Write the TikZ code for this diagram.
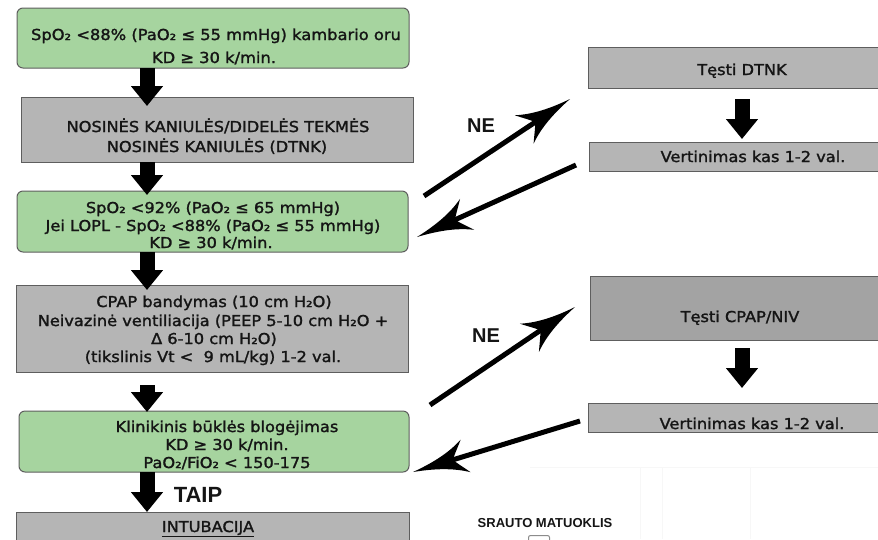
\documentclass[tikz,border=0pt]{standalone}
\usepackage{fontspec}
\usetikzlibrary{arrows.meta}
\newfontfamily\mf{DejaVu Sans}[FakeStretch=1.08,FakeBold=1.6]
\newfontfamily\lsans{Liberation Sans}
\definecolor{gfill}{HTML}{A6D49F}
\definecolor{bfill}{HTML}{B5B5B5}
\definecolor{dfill}{HTML}{A3A3A3}
\definecolor{edge}{HTML}{5E5E5E}
\definecolor{ink}{HTML}{151515}
\pgfdeclarearrow{
  name=Barb,
  setup code={
    \pgfarrowssettipend{0pt}
    \pgfarrowssetlineend{-38pt}
    \pgfarrowssetvisualbackend{-55pt}
    \pgfarrowssetbackend{-55pt}
    \pgfarrowshullpoint{0pt}{0pt}
    \pgfarrowsupperhullpoint{-55pt}{16pt}
  },
  drawing code={
    \pgfpathmoveto{\pgfqpoint{0pt}{0pt}}
    \pgfpathcurveto{\pgfqpoint{-22pt}{3pt}}{\pgfqpoint{-40pt}{8pt}}{\pgfqpoint{-55pt}{17pt}}
    \pgfpathcurveto{\pgfqpoint{-48pt}{8pt}}{\pgfqpoint{-44pt}{4pt}}{\pgfqpoint{-42pt}{0pt}}
    \pgfpathcurveto{\pgfqpoint{-44pt}{-4pt}}{\pgfqpoint{-48pt}{-8pt}}{\pgfqpoint{-55pt}{-17pt}}
    \pgfpathcurveto{\pgfqpoint{-40pt}{-8pt}}{\pgfqpoint{-22pt}{-3pt}}{\pgfqpoint{0pt}{0pt}}
    \pgfpathclose
    \pgfusepathqfill
  }
}
\begin{document}
\begin{tikzpicture}[x=1pt,y=-1pt,
  box/.style={draw=edge,line width=1pt,inner sep=0pt,outer sep=0pt,anchor=north west},
  gbox/.style={box,fill=gfill,rounded corners=6pt},
  ybox/.style={box,fill=bfill},
  dbox/.style={box,fill=dfill},
  tx/.style={font=\mf\fontsize{15}{18}\selectfont,text=ink,anchor=base,inner sep=0pt},
  lbl/.style={font=\lsans\bfseries\fontsize{20}{24}\selectfont,text=ink,anchor=base,inner sep=0pt},
  blk/.style={line width=15pt,-{Triangle[length=20pt,width=31pt]}},
  bar/.style={line width=5pt,-{Barb}},
  faint/.style={draw=black!3,line width=1pt}
]
\clip (0,0) rectangle (878,539);
\fill[white] (0,0) rectangle (878,539);
\coordinate (ax) at (147,0);
\coordinate (rx) at (742,0);
% faint background lines
\draw[faint] (530,467) -- (878,467);
\draw[faint] (640,467) -- (640,539);
\draw[faint] (662,467) -- (662,539);
\draw[faint] (750,467) -- (750,539);
% left column boxes
\node[gbox,minimum width=392pt,minimum height=60pt] (b1) at (17,8) {};
\node[ybox,minimum width=392pt,minimum height=65pt] (b2) at (21,97) {};
\node[gbox,minimum width=391pt,minimum height=61pt] (b3) at (17,191) {};
\node[ybox,minimum width=392pt,minimum height=87pt] (b4) at (16,285) {};
\node[gbox,minimum width=390pt,minimum height=61pt] (b5) at (19,411) {};
\node[ybox,minimum width=393pt,minimum height=50pt] (b6) at (16,512) {};
% right column boxes
\node[ybox,minimum width=300pt,minimum height=41pt] (r1) at (588,47) {};
\node[ybox,minimum width=300pt,minimum height=29pt] (r2) at (589,142) {};
\node[dbox,minimum width=300pt,minimum height=64pt] (r3) at (590,276) {};
\node[ybox,minimum width=300pt,minimum height=29pt] (r4) at (588,403) {};
% texts
\node[tx,font=\mf\fontsize{15.1}{18}\selectfont] (t1a) at (216,40) {SpO₂ <88\% (PaO₂ ≤ 55 mmHg) kambario oru};
\node[tx,font=\mf\fontsize{15.1}{18}\selectfont] (t1b) at (214,63) {KD ≥ 30 k/min.};
\node[tx] (t2a) at (218,132) {NOSINĖS KANIULĖS/DIDELĖS TEKMĖS};
\node[tx] (t2b) at (217,152) {NOSINĖS KANIULĖS (DTNK)};
\node[tx] (t3a) at (213,213) {SpO₂ <92\% (PaO₂ ≤ 65 mmHg)};
\node[tx] (t3b) at (213,231) {Jei LOPL - SpO₂ <88\% (PaO₂ ≤ 55 mmHg)};
\node[tx] (t3c) at (211,248) {KD ≥ 30 k/min.};
\node[tx] (t4a) at (214,307) {CPAP bandymas (10 cm H₂O)};
\node[tx] (t4b) at (213,326) {Neivazinė ventiliacija (PEEP 5-10 cm H₂O +};
\node[tx] (t4c) at (214,344) {Δ 6-10 cm H₂O)};
\node[tx] (t4d) at (213,362) {(tikslinis Vt <\ \ 9 mL/kg) 1-2 val.};
\node[tx] (t5a) at (227,432) {Klinikinis būklės blogėjimas};
\node[tx] (t5b) at (227,450) {KD ≥ 30 k/min.};
\node[tx] (t5c) at (227,468) {PaO₂/FiO₂ < 150-175};
\node[tx] (t6) at (208,532) {\underline{INTUBACIJA}};
\node[tx] (tr1) at (742,75) {Tęsti DTNK};
\node[tx] (tr2) at (753,162) {Vertinimas kas 1-2 val.};
\node[tx] (tr3) at (740,322) {Tęsti CPAP/NIV};
\node[tx] (tr4) at (752,429) {Vertinimas kas 1-2 val.};
\node[lbl] (ne1) at (481,132) {NE};
\node[lbl] (ne2) at (486,342) {NE};
\node[lbl,font=\lsans\bfseries\fontsize{22}{26}\selectfont] (taip) at (198,502) {TAIP};
\node[font=\lsans\bfseries\fontsize{13}{15}\selectfont,text=ink,anchor=base,inner sep=0pt] (srauto) at (545,527) {SRAUTO MATUOKLIS};
\node[draw=black!45,line width=1pt,rounded corners=2pt,minimum width=21pt,minimum height=14pt,inner sep=0pt,anchor=north west] (sq) at (528,535) {};
% vertical block arrows
\draw[blk,shorten >=-9pt] (b1.south -| ax) -- (b2.north -| ax);
\draw[blk,shorten >=-4pt] (b2.south -| ax) -- (b3.north -| ax);
\draw[blk,shorten >=-5pt] (b3.south -| ax) -- (b4.north -| ax);
\draw[blk,shorten <=13pt,shorten >=-1pt] (b4.south -| ax) -- (b5.north -| ax);
\draw[blk] (b5.south -| ax) -- (b6.north -| ax);
\draw[blk,shorten <=11pt,shorten >=3pt] (r1.south -| rx) -- (r2.north -| rx);
\draw[blk,shorten <=8pt,shorten >=15pt] (r3.south -| rx) -- (r4.north -| rx);
% diagonal arrows
\coordinate (n1s) at (424,196);
\coordinate (n1e) at (570,99);
\coordinate (k1s) at (576,165);
\coordinate (k1e) at (417,237);
\coordinate (n2s) at (430,405);
\coordinate (n2e) at (575,307);
\coordinate (k2s) at (580,421);
\coordinate (k2e) at (413,472);
\draw[bar] (n1s) -- (n1e);
\draw[bar] (k1s) -- (k1e);
\draw[bar] (n2s) -- (n2e);
\draw[bar] (k2s) -- (k2e);
\end{tikzpicture}
\end{document}
